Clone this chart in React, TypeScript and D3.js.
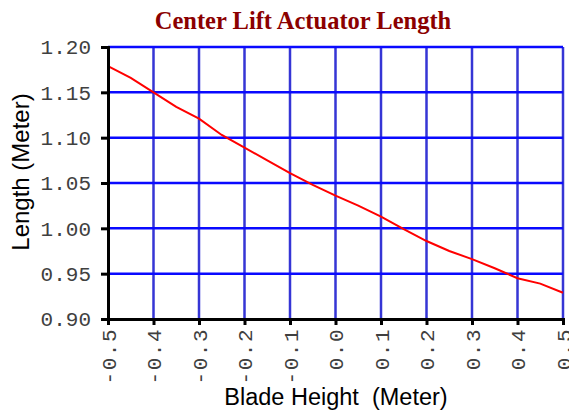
import { useCallback, useEffect, useRef } from 'react';
import { axisBottom, axisLeft, line, scaleLinear, select } from 'd3';

const bladeHeight = [
  -0.5, -0.45, -0.4, -0.35, -0.3, -0.25, -0.2, -0.15, -0.1, -0.05, 0.0, 0.05,
  0.1, 0.15, 0.2, 0.25, 0.3, 0.35, 0.4, 0.45, 0.5,
];
const actuatorLength = [
  1.179, 1.166, 1.15, 1.134, 1.121, 1.103, 1.089, 1.075, 1.061, 1.048, 1.036,
  1.025, 1.013, 0.999, 0.986, 0.975, 0.966, 0.956, 0.945, 0.939, 0.929,
];
const xTicks = [-0.5, -0.4, -0.3, -0.2, -0.1, 0.0, 0.1, 0.2, 0.3, 0.4, 0.5];
const yTicks = [0.9, 0.95, 1.0, 1.05, 1.1, 1.15, 1.2];

export default function App() {
  const containerRef = useRef<HTMLDivElement>(null);

  const initChart = useCallback(() => {
    const container = containerRef.current;
    if (!container) return;

    const div = select(container);
    div.select('svg').remove();

    const W = 569,
      H = 410;
    const margin = { top: 47, right: 6, bottom: 91, left: 108 };
    const width = W - margin.left - margin.right,
      height = H - margin.top - margin.bottom;

    const svg = div
      .append('svg')
      .attr('width', W)
      .attr('height', H)
      .style('position', 'absolute')
      .style('left', '0px')
      .style('top', '0px')
      .style('background', '#fff');

    // title
    svg
      .append('text')
      .attr('x', 303)
      .attr('y', 29)
      .attr('text-anchor', 'middle')
      .attr('font-family', '"Liberation Serif", serif')
      .attr('font-weight', 'bold')
      .attr('font-size', 24.5)
      .attr('fill', '#8b0000')
      .text('Center Lift Actuator Length');

    const g = svg
      .append('g')
      .attr('transform', `translate(${margin.left},${margin.top})`);

    const x = scaleLinear().domain([-0.5, 0.5]).range([0, width]);
    const y = scaleLinear().domain([0.9, 1.2]).range([height, 0]);

    // grid
    const grid = g.append('g').attr('class', 'grid');
    grid
      .selectAll('line.v')
      .data(xTicks.slice(1))
      .join('line')
      .attr('class', 'v')
      .attr('x1', (d) => x(d))
      .attr('x2', (d) => x(d))
      .attr('y1', 0)
      .attr('y2', height)
      .attr('stroke', '#3535d5')
      .attr('stroke-width', 2.5);
    grid
      .selectAll('line.h')
      .data(yTicks.slice(1))
      .join('line')
      .attr('class', 'h')
      .attr('x1', 0)
      .attr('x2', width)
      .attr('y1', (d) => y(d))
      .attr('y2', (d) => y(d))
      .attr('stroke', '#0a0aff')
      .attr('stroke-width', 2.5);

    // data line
    const path = line<number>()
      .x((_, i) => x(bladeHeight[i]))
      .y((d) => y(d));
    g.append('path')
      .datum(actuatorLength)
      .attr('d', path)
      .attr('fill', 'none')
      .attr('stroke', '#ff0000')
      .attr('stroke-width', 2);

    // axes
    const xAxis = g
      .append('g')
      .attr('transform', `translate(0,${height})`)
      .call(
        axisBottom(x)
          .tickValues(xTicks)
          .tickSize(6)
          .tickPadding(4)
          .tickFormat((d) => Number(d).toFixed(1))
      );
    xAxis.select('.domain').attr('stroke', '#000').attr('stroke-width', 3);
    xAxis.selectAll('.tick line').attr('stroke', '#000').attr('stroke-width', 3);
    xAxis
      .selectAll<SVGTextElement, number>('.tick text')
      .attr('transform', 'rotate(-90)')
      .attr('x', -9)
      .attr('y', 0)
      .attr('dy', '0.35em')
      .attr('text-anchor', 'end')
      .attr('font-family', '"Liberation Mono", monospace')
      .attr('font-size', 21)
      .attr('letter-spacing', 1.5)
      .attr('fill', '#404040');

    const yAxis = g.append('g').call(
      axisLeft(y)
        .tickValues(yTicks)
        .tickSize(7)
        .tickPadding(10)
        .tickFormat((d) => Number(d).toFixed(2))
    );
    yAxis.select('.domain').attr('stroke', '#000').attr('stroke-width', 3);
    yAxis.selectAll('.tick line').attr('stroke', '#000').attr('stroke-width', 3);
    yAxis
      .selectAll('.tick text')
      .attr('font-family', '"Liberation Mono", monospace')
      .attr('font-size', 21)
      .attr('fill', '#404040');

    // axis titles
    svg
      .append('text')
      .attr('transform', `translate(29,172) rotate(-90)`)
      .attr('text-anchor', 'middle')
      .attr('font-family', '"Liberation Sans", Arial, sans-serif')
      .attr('font-size', 24)
      .attr('fill', '#000')
      .text('Length (Meter)');

    svg
      .append('text')
      .attr('x', 336)
      .attr('y', 405)
      .attr('text-anchor', 'middle')
      .attr('font-family', '"Liberation Sans", Arial, sans-serif')
      .attr('font-size', 23.5)
      .attr('fill', '#000')
      .attr('xml:space', 'preserve')
      .style('white-space', 'pre')
      .text('Blade Height  (Meter)');
  }, []);

  const destroyChart = useCallback(() => {
    const container = containerRef.current;
    if (!container) return;
    select(container).select('svg').remove();
  }, []);

  useEffect(() => {
    initChart();
    return destroyChart;
  }, [destroyChart, initChart]);

  return <div ref={containerRef} />;
}
